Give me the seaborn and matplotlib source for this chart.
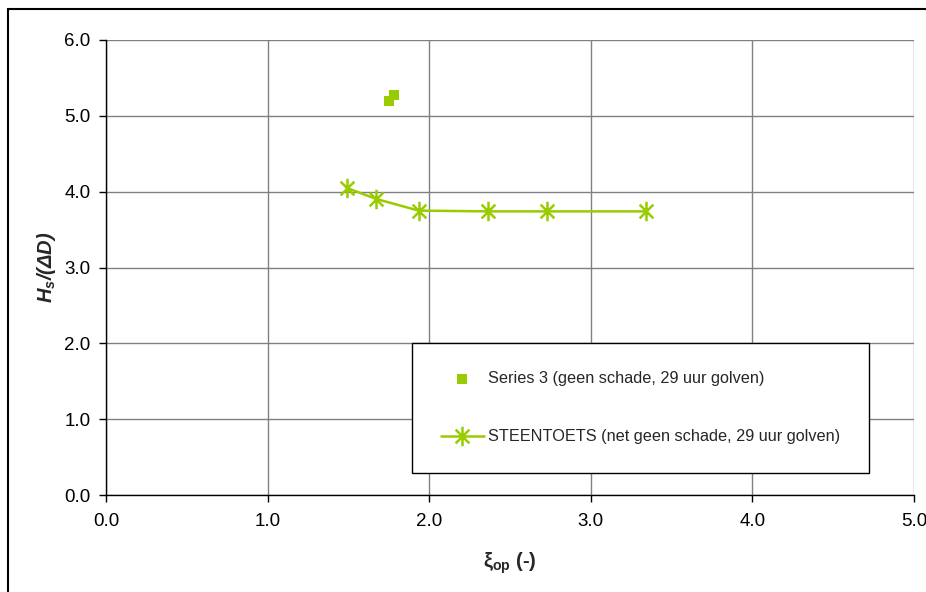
import numpy as np
import pandas as pd
import matplotlib
matplotlib.use("Agg")
import matplotlib.pyplot as plt
from matplotlib.path import Path
from matplotlib.patches import Rectangle
import seaborn as sns

# measured points (geen schade) and STEENTOETS calculation
series3_x = [1.75, 1.78]
series3_y = [5.20, 5.27]
steen_x = [1.49, 1.67, 1.935, 2.365, 2.73, 3.34]
steen_y = [4.05, 3.905, 3.75, 3.74, 3.74, 3.74]

x_ticks = [0.0, 1.0, 2.0, 3.0, 4.0, 5.0]
y_ticks = [0.0, 1.0, 2.0, 3.0, 4.0, 5.0, 6.0]

label_s3 = "Series 3 (geen schade, 29 uur golven)"
label_st = "STEENTOETS (net geen schade, 29 uur golven)"

GREEN = "#99CC00"

sns.set_style("white")
plt.rcParams["font.family"] = ["Liberation Sans", "DejaVu Sans"]
plt.rcParams["mathtext.fontset"] = "custom"
plt.rcParams["mathtext.rm"] = "Liberation Sans"
plt.rcParams["mathtext.it"] = "Liberation Sans:italic"
plt.rcParams["mathtext.bf"] = "Liberation Sans:bold"
plt.rcParams["mathtext.bfit"] = "Liberation Sans:bold:italic"

fig = plt.figure(figsize=(9.26, 5.92), dpi=100)
ax = fig.add_axes([106 / 926, 97 / 592, 808 / 926, 455 / 592])

# asterisk marker: vertical bar plus diagonal cross
ast = Path(
    [(0, -1), (0, 1), (-0.707, -0.707), (0.707, 0.707), (-0.707, 0.707), (0.707, -0.707)],
    [Path.MOVETO, Path.LINETO, Path.MOVETO, Path.LINETO, Path.MOVETO, Path.LINETO],
)

df3 = pd.DataFrame({"x": series3_x, "y": series3_y})
dfs = pd.DataFrame({"x": steen_x, "y": steen_y})

sns.scatterplot(data=df3, x="x", y="y", marker="s", s=60, color=GREEN,
                edgecolor=GREEN, linewidth=0, ax=ax, label=label_s3, zorder=4)
sns.lineplot(data=dfs, x="x", y="y", sort=False, color=GREEN, linewidth=1.8,
             marker=ast, markersize=14, markeredgewidth=1.8, markeredgecolor=GREEN,
             ax=ax, label=label_st, zorder=4)

ax.set_xlim(0, 5)
ax.set_ylim(0, 6)
ax.set_xticks(x_ticks)
ax.set_yticks(y_ticks)
ax.set_xticklabels([f"{v:.1f}" for v in x_ticks], fontsize=13.5)
ax.set_yticklabels([f"{v:.1f}" for v in y_ticks], fontsize=13.5)
ax.tick_params(axis="both", direction="out", length=5, width=1, color="black",
               pad=6, labelcolor="black")
ax.tick_params(axis="x", pad=8)
ax.tick_params(bottom=True, left=True)

ax.grid(True, color="#808080", linewidth=1.0)
ax.set_axisbelow(True)
for side in ["top", "right"]:
    ax.spines[side].set_visible(False)
for side in ["left", "bottom"]:
    ax.spines[side].set_color("black")
    ax.spines[side].set_linewidth(1.0)
    ax.spines[side].set_zorder(3)

ax.set_xlabel(r"$\mathbf{\xi}_{\mathbf{op}}$ (-)", fontsize=14.5, fontweight="bold", labelpad=15)
ax.set_ylabel(r"$\mathbfit{H_s/(\Delta D)}$", fontsize=14.5, labelpad=5)

leg = ax.legend(loc="upper left", bbox_to_anchor=(1.894 / 5, 2.005 / 6), fontsize=11.7,
                frameon=True, fancybox=False, framealpha=1, edgecolor="black",
                borderpad=1.75, labelspacing=2.65, handlelength=2.7, handletextpad=0.25,
                borderaxespad=0)
leg.get_frame().set_linewidth(1.0)
leg.set_zorder(5)

# outer border of the chart area
fig.patches.append(Rectangle((7.5 / 926, -0.05), 1.2, (592 - 8.5) / 592 + 0.05,
                             transform=fig.transFigure, fill=False,
                             edgecolor="black", linewidth=1.5, zorder=0))

fig.savefig("out.png", dpi=100)
